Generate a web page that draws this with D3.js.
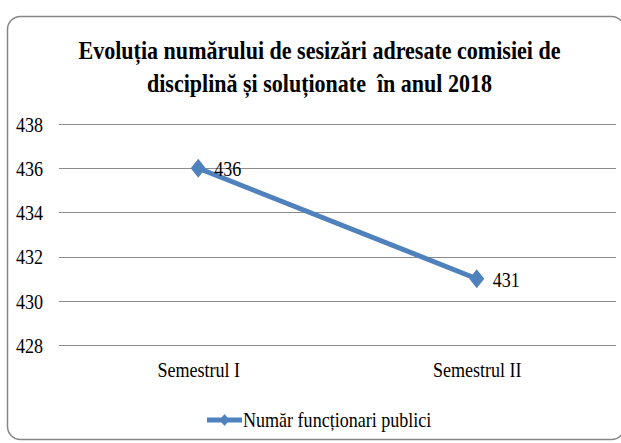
<!DOCTYPE html>
<html>
<head>
<meta charset="utf-8">
<script src="https://cdn.jsdelivr.net/npm/d3@7"></script>
<style>
  body { margin: 0; background: #fff; }
  svg text { font-family: "Liberation Serif", "Times New Roman", serif !important; fill: #000; }
</style>
</head>
<body>
<svg id="chart" width="621" height="443"></svg>
<script>
// chart data
var categories = ["Semestrul I", "Semestrul II"];
var values = [436, 431];
var yTicks = [428, 430, 432, 434, 436, 438];
var seriesName = "Număr funcționari publici";
var titleLines = ["Evoluția numărului de sesizări adresate comisiei de",
                  "disciplină și soluționate  în anul 2018"];

var svg = d3.select("#chart");
var blue = "#4f81bd";
var narrow = 0.82;   // the source text is horizontally condensed

// squeeze each text of a selection to a fraction of its natural width
function squeeze(sel, k){
    sel.each(function(){
        var w = this.getComputedTextLength();
        d3.select(this)
            .attr("textLength", w * k)
            .attr("lengthAdjust", "spacingAndGlyphs");
    });
}

// outer frame (right edge runs just past the picture)
svg.append("rect")
    .attr("x", 7.5).attr("y", 16.5)
    .attr("width", 617).attr("height", 423)
    .attr("rx", 13).attr("ry", 13)
    .attr("fill", "#fff")
    .attr("stroke", "#868686")
    .attr("stroke-width", 1.5);

// title, squeezed to the reference width
var titleW = [482, 345];
svg.selectAll("text.title")
    .data(titleLines).enter().append("text")
    .attr("class", "title")
    .attr("x", 319.5)
    .attr("y", function(d, i){ return 59 + i * 33; })
    .attr("text-anchor", "middle")
    .attr("font-size", 26)
    .attr("font-weight", "bold")
    .attr("textLength", function(d, i){ return titleW[i]; })
    .attr("lengthAdjust", "spacingAndGlyphs")
    .style("white-space", "pre")
    .text(function(d){ return d; });

var plotL = 59, plotR = 616, plotT = 124, plotB = 345;

var x = d3.scalePoint().domain(categories).range([plotL, plotR]).padding(0.5);
var y = d3.scaleLinear().domain([428, 438]).range([plotB, plotT]);

// gridlines
svg.append("g")
    .selectAll("line")
    .data(yTicks).enter().append("line")
    .attr("x1", plotL).attr("x2", plotR)
    .attr("y1", function(d){ return Math.round(y(d)) + 0.5; })
    .attr("y2", function(d){ return Math.round(y(d)) + 0.5; })
    .attr("stroke", "#8c8c8c")
    .attr("stroke-width", 1);

// y axis labels
var yAxis = d3.axisLeft(y).tickValues(yTicks).tickSize(0).tickPadding(16);
var gy = svg.append("g").attr("transform", "translate(" + plotL + ",0)").call(yAxis)
    .attr("font-family", null);
gy.select(".domain").remove();
gy.selectAll("text")
    .attr("font-size", 22)
    .attr("fill", "#000")
    .attr("dy", "0.33em")
    .call(squeeze, narrow);

// x axis labels
var xAxis = d3.axisBottom(x).tickSize(0).tickPadding(22);
var gx = svg.append("g").attr("transform", "translate(0," + plotB + ")").call(xAxis)
    .attr("font-family", null);
gx.select(".domain").remove();
gx.selectAll("text")
    .attr("font-size", 22)
    .attr("fill", "#000")
    .attr("dy", "0.45em")
    .call(squeeze, narrow);

// series line
var pts = categories.map(function(c, i){ return { cat: c, val: values[i] }; });
var line = d3.line()
    .x(function(d){ return x(d.cat); })
    .y(function(d){ return y(d.val); });

svg.append("path")
    .datum(pts)
    .attr("d", line)
    .attr("fill", "none")
    .attr("stroke", blue)
    .attr("stroke-width", 5);

var diamond = "M0,-9.5L7.5,0L0,9.5L-7.5,0Z";
svg.selectAll("path.marker")
    .data(pts).enter().append("path")
    .attr("class", "marker")
    .attr("d", diamond)
    .attr("transform", function(d){ return "translate(" + x(d.cat) + "," + y(d.val) + ")"; })
    .attr("fill", blue);

// data labels
svg.selectAll("text.lbl")
    .data(pts).enter().append("text")
    .attr("class", "lbl")
    .attr("x", function(d){ return x(d.cat) + 16; })
    .attr("y", function(d){ return y(d.val) + 8; })
    .attr("font-size", 22)
    .text(function(d){ return d.val; })
    .call(squeeze, narrow);

// legend
var lg = svg.append("g").attr("transform", "translate(207,420)");
lg.append("line")
    .attr("x1", 0).attr("x2", 35)
    .attr("stroke", blue).attr("stroke-width", 5);
lg.append("path")
    .attr("d", "M0,-6L5,0L0,6L-5,0Z")
    .attr("transform", "translate(17.5,0)")
    .attr("fill", blue);
lg.append("text")
    .attr("x", 36).attr("y", 7)
    .attr("font-size", 22)
    .text(seriesName)
    .call(squeeze, narrow);
</script>
</body>
</html>
